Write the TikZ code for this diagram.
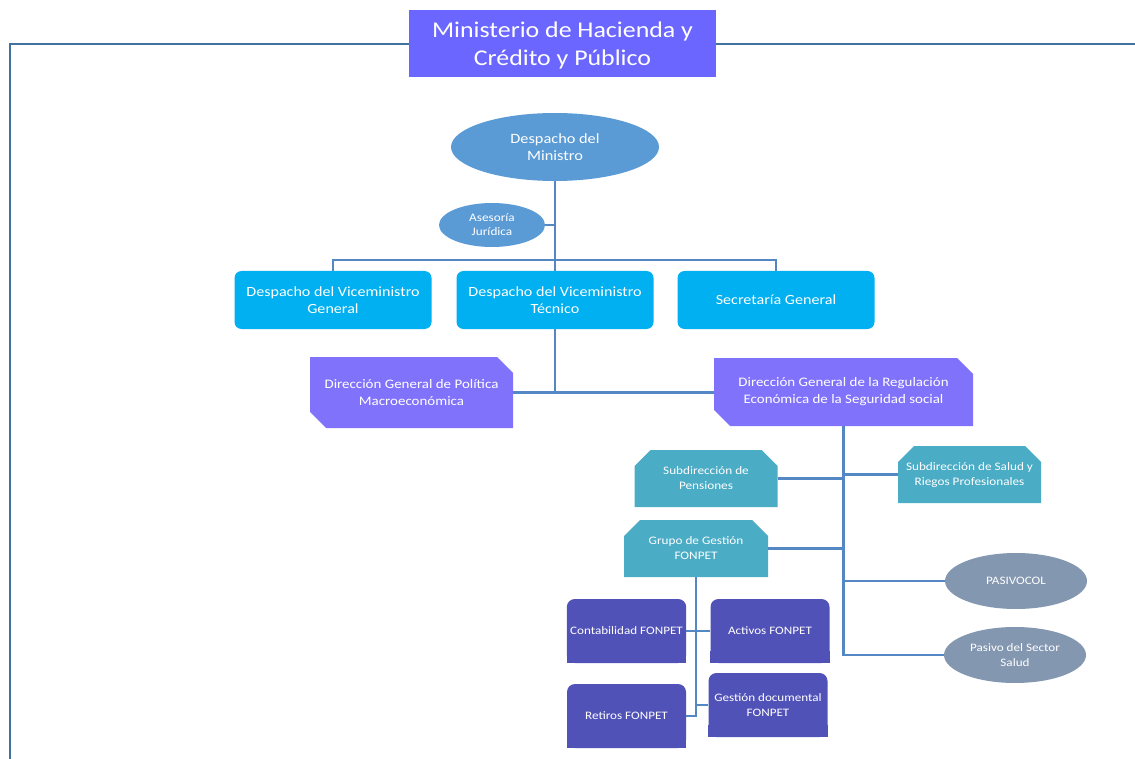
\documentclass[tikz,border=0pt]{standalone}
\usepackage{fontspec}
\setmainfont[FakeStretch=1.15]{Carlito}
\usepackage{tikz}
\usetikzlibrary{shapes,positioning}
\definecolor{titlefill}{RGB}{107,102,255}
\definecolor{bossfill}{RGB}{91,155,213}
\definecolor{vicefill}{RGB}{0,176,240}
\definecolor{dirfill}{RGB}{128,114,250}
\definecolor{subfill}{RGB}{75,172,198}
\definecolor{fonfill}{RGB}{81,82,184}
\definecolor{greyfill}{RGB}{132,151,176}
\definecolor{linkcol}{RGB}{84,136,196}
\definecolor{framecol}{RGB}{68,114,160}
\tikzstyle{title} = [rectangle, fill=titlefill, text=white, align=center, text depth=0pt,
    minimum width=307pt, minimum height=67pt, font=\fontsize{22.5}{28}\selectfont]
\tikzstyle{boss} = [ellipse, fill=bossfill, text=white, align=center, inner sep=0pt]
\tikzstyle{vice} = [rectangle, rounded corners=7pt, fill=vicefill, text=white,
    align=center, minimum width=197pt, minimum height=58pt,
    font=\fontsize{14}{17}\selectfont]
\tikzstyle{dir} = [chamfered rectangle, chamfered rectangle corners={north east,south west},
    chamfered rectangle xsep=8pt, chamfered rectangle ysep=8pt, fill=dirfill, text=white,
    align=center, inner sep=0pt, font=\fontsize{13}{17}\selectfont]
\tikzstyle{sub} = [chamfered rectangle, chamfered rectangle corners={north west,north east},
    chamfered rectangle xsep=8pt, chamfered rectangle ysep=8pt, fill=subfill, text=white,
    align=center, inner sep=0pt, minimum width=143pt, minimum height=57pt,
    font=\fontsize{11.5}{15}\selectfont]
\tikzstyle{fon} = [rectangle, rounded corners=8pt, fill=fonfill, text=white,
    align=center, minimum width=119pt, minimum height=64pt,
    font=\fontsize{11.4}{15}\selectfont]
\tikzstyle{pasivo} = [ellipse, fill=greyfill, text=white, align=center, inner sep=0pt,
    minimum width=142pt, minimum height=56pt, font=\fontsize{11.4}{15}\selectfont]
\tikzstyle{link} = [draw=linkcol, line width=2.4pt]

\begin{document}
\begin{tikzpicture}[x=1pt, y=-1pt, node distance=222pt]
  \useasboundingbox (0,0) rectangle (1135,759);
  % Frame
  \draw [framecol, line width=2pt] (10,759) -- (10,44) -- (1135,44);
  % Place nodes
  \node [title] (ministerio) at (562.5,43.5) {Ministerio de Hacienda y\\Crédito y Público};
  \node [boss, minimum width=208pt, minimum height=68pt,
    font=\fontsize{14.2}{16.5}\selectfont] (ministro) at (555,147) {Despacho del\\Ministro};
  \node [boss, minimum width=106pt, minimum height=44pt,
    font=\fontsize{11.5}{14}\selectfont] (asesoria) at (492,225) {Asesoría\\Jurídica};
  \node [vice] (vtecnico) at (555,300) {Despacho del Viceministro\\Técnico};
  \node [vice, left of=vtecnico] (vgeneral) {Despacho del Viceministro\\General};
  \node [vice, right of=vtecnico, node distance=221pt] (secretaria) {Secretaría General};
  \node [dir, minimum width=203pt, minimum height=71pt] (dgpolitica) at (411.5,392.5)
  {Dirección General de Política\\Macroeconómica};
  \node [dir, minimum width=259pt, minimum height=68pt] (dgregulacion) at (843.5,392)
  {Dirección General de la Regulación\\Económica de la Seguridad social};
  \node [sub] (pensiones) at (706,478.5) {Subdirección de\\Pensiones};
  \node [sub] (salud) at (969.5,474.5) {Subdirección de Salud y\\Riegos Profesionales};
  \node [sub, minimum width=144pt] (grupo) at (696,548.5) {Grupo de Gestión\\FONPET};
  \node [pasivo] (pasivocol) at (1016,581) {PASIVOCOL};
  \node [pasivo] (pasivosalud) at (1015,655) {Pasivo del Sector\\Salud};
  \node [fon] (contabilidad) at (626.5,631) {Contabilidad FONPET};
  \node [fon] (activos) at (770,631) {Activos FONPET};
  \node [fon] (retiros) at (626.5,716) {Retiros FONPET};
  \node [fon] (gestiondoc) at (768,705) {Gestión documental\\FONPET};
  % square off the lower corners
  \foreach \n in {contabilidad,activos,retiros,gestiondoc}
    \fill [fonfill] (\n.south west) rectangle ([yshift=12pt]\n.south east);
  % Draw edges
  \draw [link] (ministro) -- (vtecnico);
  \draw [link] (asesoria.east) -- (asesoria.east -| ministro.south);
  \draw [link] (vgeneral.north) -- ++(0,-11) -| (secretaria.north);
  \draw [link] (vtecnico.south) -- ++(0,63);
  \draw [link] (dgpolitica.east) -- (dgpolitica.east -| dgregulacion.west);
  \draw [link] (dgregulacion.south) |- (pasivosalud.west);
  \draw [link] (pensiones.east) -- (pensiones.east -| dgregulacion.south);
  \draw [link] (salud.west) -- (salud.west -| dgregulacion.south);
  \draw [link] (grupo.east) -- (grupo.east -| dgregulacion.south);
  \draw [link] (pasivocol.west) -- (pasivocol.west -| dgregulacion.south);
  \draw [link] (grupo.south) |- (retiros.east);
  \draw [link] (contabilidad.east) -- (activos.west);
  \draw [link] (gestiondoc.west) -- (gestiondoc.west -| grupo.south);
\end{tikzpicture}
\end{document}
